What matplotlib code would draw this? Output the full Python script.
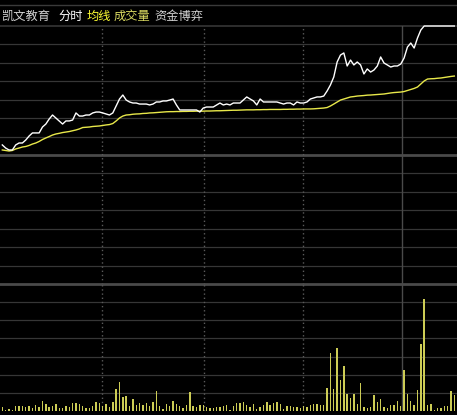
import matplotlib
matplotlib.use("Agg")
import matplotlib.pyplot as plt
import numpy as np

plt.rcParams['font.family'] = ['Noto Sans CJK SC', 'DejaVu Sans']

# ---- data (percent change vs previous close, per minute) ----
price_pct = [0.78, 0.54, 0.39, 0.39, 0.78, 0.93, 0.93, 1.16, 1.47, 1.71,
             1.71, 1.71, 2.17, 2.40, 2.79, 3.10, 2.87, 2.64, 2.40, 2.64,
             2.64, 2.71, 3.26, 3.02, 3.02, 3.10, 3.10, 3.26, 3.33, 3.33,
             3.26, 3.18, 3.10, 3.26, 3.80, 4.34, 4.65, 4.26, 4.11, 4.03,
             4.03, 3.95, 3.95, 3.95, 3.88, 3.95, 4.11, 4.11, 4.19, 4.19,
             4.26, 4.34, 3.88, 3.49, 3.49, 3.49, 3.49, 3.49, 3.49, 3.33,
             3.64, 3.72, 3.72, 3.72, 3.88, 4.03, 3.88, 3.95, 3.88, 4.03,
             4.03, 4.03, 4.26, 4.50, 4.34, 4.19, 3.88, 4.34, 4.11, 4.11,
             4.11, 4.11, 4.11, 4.03, 3.95, 4.03, 4.03, 3.88, 4.11, 4.03,
             4.03, 4.11, 4.34, 4.42, 4.50, 4.50, 4.57, 4.96, 5.43, 6.05,
             7.21, 7.75, 7.91, 6.90, 7.36, 6.98, 7.21, 6.98, 6.28, 6.67,
             6.43, 6.59, 6.90, 7.60, 7.13, 6.98, 6.82, 6.90, 6.90, 7.05,
             7.52, 8.37, 8.68, 8.29, 9.07, 9.69, 10.00, 10.00, 10.00, 10.00,
             10.00, 10.00, 10.00, 10.00, 10.00, 10.00]

avg_pct = [0.39, 0.35, 0.31, 0.35, 0.47, 0.54, 0.62, 0.66, 0.74, 0.85,
           0.93, 1.05, 1.20, 1.32, 1.43, 1.55, 1.63, 1.68, 1.74, 1.78,
           1.82, 1.88, 1.94, 2.02, 2.13, 2.15, 2.17, 2.21, 2.23, 2.25,
           2.29, 2.33, 2.36, 2.44, 2.64, 2.87, 3.02, 3.10, 3.12, 3.16,
           3.18, 3.19, 3.22, 3.23, 3.26, 3.27, 3.29, 3.31, 3.33, 3.35,
           3.36, 3.36, 3.37, 3.37, 3.38, 3.38, 3.39, 3.39, 3.40, 3.40,
           3.40, 3.41, 3.41, 3.42, 3.43, 3.43, 3.44, 3.45, 3.46, 3.47,
           3.47, 3.48, 3.49, 3.50, 3.50, 3.50, 3.51, 3.51, 3.52, 3.52,
           3.53, 3.53, 3.53, 3.53, 3.54, 3.54, 3.55, 3.55, 3.56, 3.56,
           3.57, 3.57, 3.57, 3.58, 3.60, 3.62, 3.64, 3.68, 3.80, 3.95,
           4.11, 4.26, 4.34, 4.42, 4.50, 4.53, 4.57, 4.59, 4.61, 4.64,
           4.65, 4.67, 4.69, 4.71, 4.73, 4.77, 4.81, 4.84, 4.86, 4.88,
           4.92, 5.00, 5.08, 5.16, 5.27, 5.50, 5.74, 5.89, 5.91, 5.92,
           5.95, 5.97, 6.01, 6.05, 6.09, 6.12]

volume = [4, 1, 2, 1, 5, 5, 5, 4, 5, 3, 6, 4, 10, 7, 4, 5, 7, 3, 3, 5,
          4, 8, 8, 7, 5, 3, 3, 5, 9, 8, 5, 7, 4, 9, 22, 29, 14, 15, 5, 12,
          6, 8, 6, 8, 5, 9, 20, 5, 2, 7, 5, 10, 7, 5, 3, 6, 19, 5, 4, 6,
          6, 4, 3, 3, 4, 4, 5, 6,
          1, 5, 8, 8, 9, 6, 4, 7, 2, 4, 6, 9, 6, 8, 9, 7, 2, 5, 5,
          4, 4, 3, 5, 4, 6, 7, 7, 6, 6, 23, 58, 22, 63, 31, 45, 17, 13, 17, 7,
          28, 4, 3, 4, 16, 9, 12, 4, 3, 6, 6, 10, 5, 41, 17, 10, 6, 21, 67, 112,
          6, 7, 1, 3, 3, 5, 5, 20, 16]
volume = [v * 100 for v in volume]

title_parts = [("凯文教育", "#d2d2d2"), ("分时", "#ffffff"), ("均线", "#ffff33"),
               ("成交量", "#d8d860"), ("资金博弈", "#d2d2d2")]

# ---- layout ----
W, H = 457, 415
fig = plt.figure(figsize=(W / 100, H / 100), dpi=100, facecolor="black")

def ax_at(top, bottom):
    return fig.add_axes([0, (H - bottom) / H, 1, (bottom - top) / H], facecolor="black")

ax_p = ax_at(26, 284)
ax_v = ax_at(284, 411)

n = len(price_pct)
x = np.arange(n)
xl = (-0.69, 135.8)
GRID = "#363636"
THICK = "#4a4a4a"
DIV = [29.8, 60.2, 89.8]
SOLID = 119.4

lim = 10.0
ax_p.set_xlim(*xl)
ax_p.set_ylim(-lim, lim)
for k in range(1, 7):
    for s in (1, -1):
        ax_p.axhline(s * k * lim / 7, color=GRID, lw=0.9, zorder=0)
ax_p.axhline(0, color=THICK, lw=2.0, zorder=0)
ax_p.axhline(lim, color=GRID, lw=1.2, zorder=0, clip_on=False)

vmax = 12700
ax_v.set_xlim(*xl)
ax_v.set_ylim(0, vmax)
for k in range(1, 7):
    ax_v.axhline(k * vmax / 7, color=GRID, lw=0.9, zorder=0)
ax_v.axhline(vmax, color=THICK, lw=2.0, zorder=0, clip_on=False)

for a in (ax_p, ax_v):
    for d in DIV:
        a.axvline(d, color="#5a5a5a", lw=1.0, ls=(0, (1, 2)), zorder=0)
    a.axvline(SOLID, color="#4a4a4a", lw=1.0, zorder=0)
    a.set_xticks([])
    a.set_yticks([])
    for sp in a.spines.values():
        sp.set_visible(False)

ax_p.plot(x, avg_pct, color="#e8e84a", lw=1.0, zorder=3)
ax_p.plot(x, price_pct, color="#ffffff", lw=1.0, zorder=4, clip_on=False)

ax_v.bar(x, volume, width=0.42, color="#cccc55", linewidth=0, zorder=3)

# top line
fig.add_artist(plt.Line2D([0, 1], [1 - 5.5 / H, 1 - 5.5 / H], color="#3a3a3a", lw=1.0))

# title
xpos = [1, 58, 87, 114, 154]
for (t, c), px in zip(title_parts, xpos):
    fig.text(px / W, 1 - 16 / H, t, color=c, fontsize=8.8, va="center", ha="left")

fig.savefig("out.png", dpi=100, facecolor="black")
